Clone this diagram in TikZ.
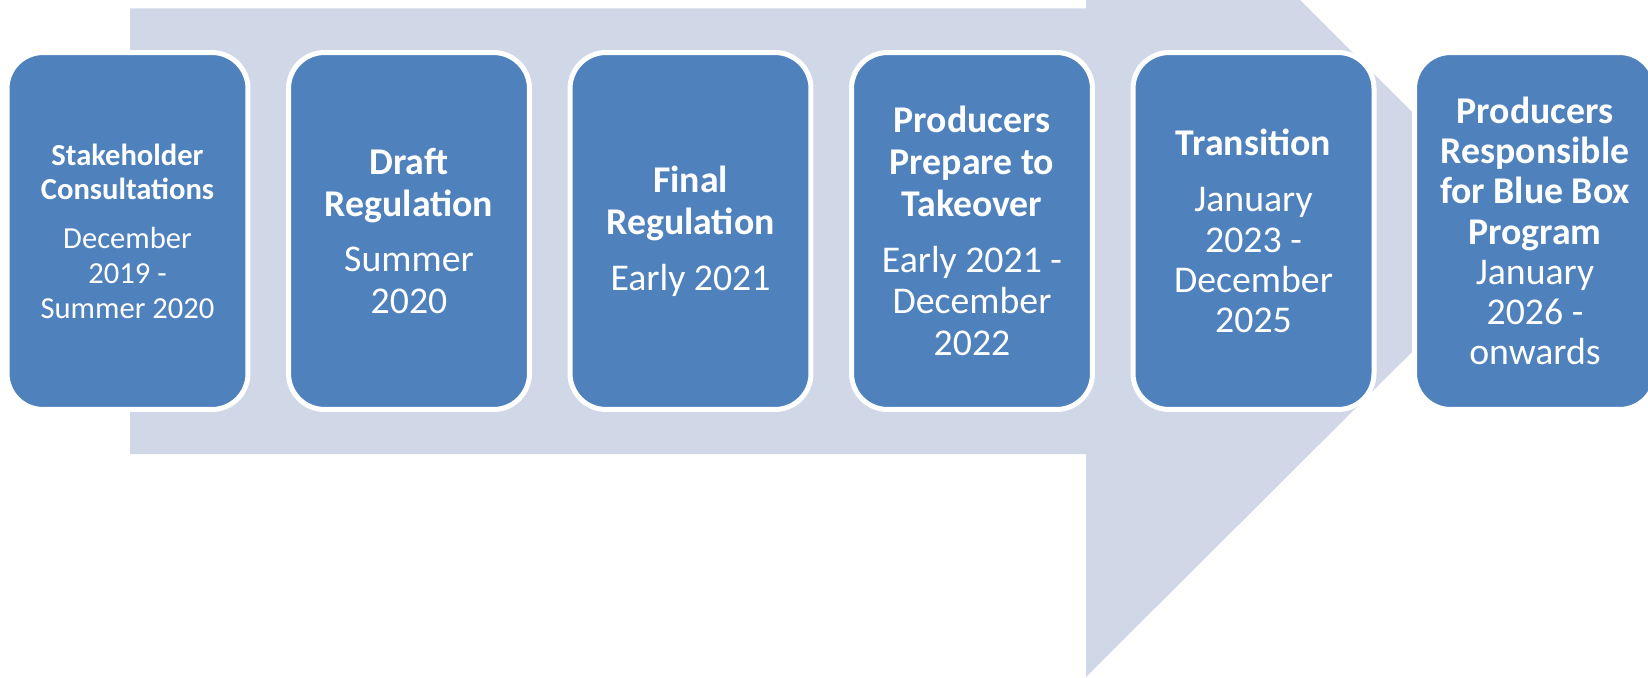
\documentclass[tikz,border=0pt]{standalone}
\usepackage{fontspec}
\setmainfont{Carlito}
\usepackage{tikz}
\definecolor{stageblue}{HTML}{4F81BD}
\definecolor{arrowfill}{HTML}{D0D8E8}
\tikzset{
stage/.style = {rectangle, rounded corners=0.72cm, fill=stageblue, draw=white, line width=0.1cm,
  minimum width=4.82cm, minimum height=7.14cm, inner sep=0pt, align=center, text=white,
  font=\fontsize{21.5}{23.8}\selectfont},
tighttext/.style = {font=\fontsize{21.5}{22.9}\selectfont},
smalltext/.style = {font=\fontsize{17.4}{19.8}\selectfont},
}

\begin{document}
\begin{tikzpicture}[x=0.02cm, y=-0.02cm]
  \useasboundingbox (0,0) rectangle (1648,677);

  % Arrow
    \fill[arrowfill] (130,8.3) -- (1086,8.3) -- (1086,0) -- (1300,0) -- (1412,112)
      -- (1412,352) -- (1086,677) -- (1086,454) -- (130,454) -- cycle;

  % Boxes
    \node[stage, smalltext] (consultBox) at (127.5,231) {\textbf{Stakeholder}\\\textbf{Consultations}\\[8pt]December\\2019 -\\Summer 2020};
    \node[stage] (draftBox) at (409,231) {\textbf{Draft}\\\textbf{Regulation}\\[8pt]Summer\\2020};
    \node[stage] (finalBox) at (690.5,231) {\textbf{Final}\\\textbf{Regulation}\\[8pt]Early 2021};
    \node[stage] (prepBox) at (972,231) {\textbf{Producers}\\\textbf{Prepare to}\\\textbf{Takeover}\\[8pt]Early 2021 -\\December\\2022};
    \node[stage, tighttext] (transBox) at (1253.5,231) {\textbf{Transition}\\[9pt]January\\2023 -\\December\\2025};
    \node[stage, tighttext] (respBox) at (1535,231) {\textbf{Producers}\\\textbf{Responsible}\\\textbf{for Blue Box}\\\textbf{Program}\\January\\2026 -\\onwards};
  \end{tikzpicture}
\end{document}
